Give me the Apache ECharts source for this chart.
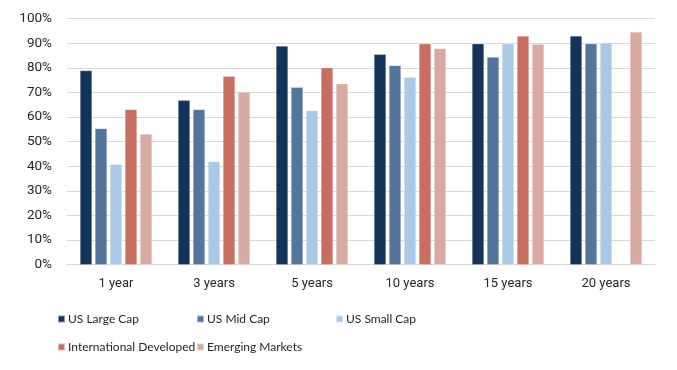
<!DOCTYPE html>
<html><head><meta charset="utf-8">
<script src="https://cdn.jsdelivr.net/npm/echarts@6/dist/echarts.min.js"></script>
<style>html,body{margin:0;padding:0;background:#fff}#c{width:677px;height:370px}</style>
</head><body><div id="c"></div>
<script>
const categories = ['1 year', '3 years', '5 years', '10 years', '15 years', '20 years'];
const seriesNames = ['US Large Cap', 'US Mid Cap', 'US Small Cap', 'International Developed', 'Emerging Markets'];
const usLargeCap = [78.9, 66.9, 88.9, 85.5, 89.8, 93.0];
const usMidCap = [55.4, 63.1, 72.1, 81.0, 84.4, 89.8];
const usSmallCap = [40.8, 42.0, 62.7, 76.2, 89.8, 90.2];
const intlDeveloped = [63.1, 76.6, 80.1, 89.8, 93.0, null];
const emergingMarkets = [53.1, 70.2, 73.6, 87.9, 89.6, 94.6];
const yTicks = [0, 10, 20, 30, 40, 50, 60, 70, 80, 90, 100];

const colors = ['#14335a', '#52749d', '#aac9e6', '#c86e61', '#d9aaa1'];
const values = [usLargeCap, usMidCap, usSmallCap, intlDeveloped, emergingMarkets];
const font = 'Roboto, "Liberation Sans", sans-serif';
const narrow = 'Lato, sans-serif';

const legendPos = [[57, 313], [196, 313], [335, 313], [57, 341], [196, 341]];
const legends = seriesNames.map((n, i) => ({
  data: [n], left: legendPos[i][0], top: legendPos[i][1],
  itemWidth: 7, itemHeight: 7, itemGap: 4, icon: 'rect',
  textStyle: { fontFamily: narrow, fontSize: 12, color: '#262626', padding: [0, 0, 0, -2] },
  selectedMode: false, padding: 0
}));

const chart = echarts.init(document.getElementById('c'));
chart.setOption({
  animation: false,
  color: colors,
  legend: legends,
  grid: { left: 67, right: 22, top: 18.7, bottom: 105.3 },
  xAxis: {
    type: 'category', data: categories,
    axisLine: { lineStyle: { color: '#d9d9d9', width: 1 } },
    axisTick: { show: false },
    axisLabel: { fontFamily: font, fontSize: 13, color: '#262626', margin: 13 }
  },
  yAxis: {
    type: 'value', min: yTicks[0], max: yTicks[yTicks.length - 1], interval: 10,
    axisLine: { show: false }, axisTick: { show: false },
    splitLine: { lineStyle: { color: '#d9d9d9', width: 1 } },
    axisLabel: { fontFamily: font, fontSize: 13.5, color: '#262626', margin: 15, formatter: '{value}%' }
  },
  series: seriesNames.map((n, i) => ({
    name: n, type: 'bar', data: values[i], barWidth: 12, barGap: '25%',
    itemStyle: { color: colors[i], borderColor: 'rgba(255,255,255,0.5)', borderWidth: 0.5 }
  }))
});
</script></body></html>
